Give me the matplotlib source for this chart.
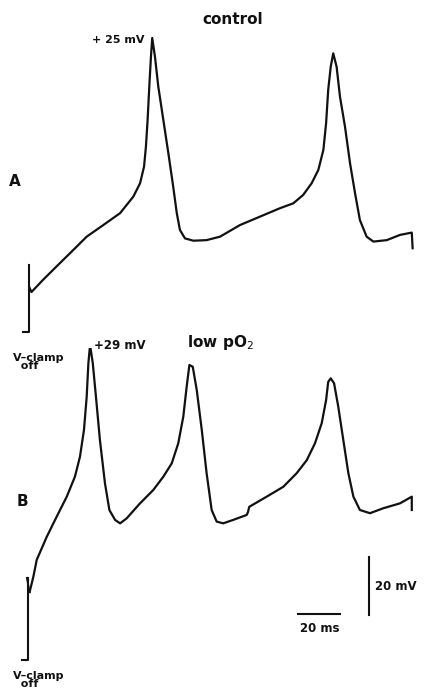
import matplotlib
matplotlib.use("Agg")
import matplotlib.pyplot as plt

# trace A (control): time in ms, membrane potential in mV
t_a = [-0.3, 0.7, 6.2, 13.3, 20.6, 27.0, 34.9, 42.9, 49.2, 52.4, 54.3, 55.2,
       56.0, 56.8, 57.6, 58.2, 59.5, 61.1, 63.5, 65.9, 68.2, 69.9, 71.4, 73.8,
       77.8, 84.1, 90.5, 100.0, 109.5, 119.0, 125.4, 130.1, 134.1, 137.3,
       139.7, 141.0, 142.0, 143.2, 144.4, 146.0, 147.6, 150.0, 152.4, 154.8,
       157.1, 160.3, 163.5, 169.9, 176.2, 181.8, 182.2]
v_a = [-61.0, -62.6, -58.4, -53.3, -48.1, -43.5, -39.5, -35.4, -29.7, -25.1,
       -19.4, -12.5, -3.3, 8.2, 18.6, 25.0, 18.6, 8.2, -3.3, -14.8, -26.3,
       -35.4, -41.2, -44.1, -44.9, -44.7, -43.5, -39.5, -36.6, -33.7, -32.0,
       -29.1, -25.1, -20.5, -13.6, -4.4, 7.1, 15.1, 19.7, 15.1, 4.8, -5.6,
       -18.2, -28.6, -37.8, -43.5, -45.2, -44.7, -42.9, -42.1, -47.5]

# trace B (low pO2)
t_b = [-0.2, 1.6, 3.2, 8.0, 12.7, 17.5, 21.4, 23.8, 25.7, 27.0, 27.8, 28.6,
       29.9, 31.4, 33.3, 35.7, 37.8, 40.5, 42.9, 46.0, 52.4, 58.7, 63.5, 67.5,
       70.6, 73.0, 74.6, 75.9, 77.5, 79.4, 81.8, 84.1, 86.5, 88.9, 92.0, 96.8,
       103.2, 103.8, 104.4, 112.7, 120.6, 127.0, 131.8, 135.7, 138.9, 141.0,
       142.0, 143.2, 144.8, 146.8, 149.2, 151.6, 154.0, 157.1, 161.9, 168.2,
       176.2, 181.8, 181.8]
v_b = [-56.2, -50.9, -45.1, -37.1, -30.2, -23.3, -16.4, -9.5, -0.3, 11.2,
       22.7, 29.0, 22.7, 11.2, -3.8, -18.7, -27.9, -31.3, -32.5, -30.8, -25.6,
       -21.0, -16.4, -11.8, -4.9, 4.3, 14.6, 22.1, 21.5, 13.5, -0.3, -15.2,
       -27.9, -31.9, -32.5, -31.3, -29.6, -28.6, -26.8, -23.3, -19.9, -15.2,
       -10.7, -4.9, 2.0, 10.0, 16.3, 17.5, 15.8, 7.7, -3.8, -15.2, -23.3,
       -27.9, -29.0, -27.3, -25.6, -23.3, -27.9]

# voltage-clamp release marks
clamp_a_t = [-0.5, -0.5, -3.3]
clamp_a_v = [-53.3, -76.4, -76.4]
clamp_b_t = [-1.0, -1.0, -3.8]
clamp_b_v = [-51.3, -79.6, -79.6]
notch_b_t = [-1.5, -0.2]
notch_b_v = [-51.3, -56.2]

# scale bars (in trace B units)
bar_v_t = [161.4, 161.4]
bar_v_v = [-44.1, -64.1]
bar_h_t = [127.6, 147.6]
bar_h_v = [-63.8, -63.8]

W, H = 425, 695
PX_MS = 2.1
PX_MV = 2.9
X0 = 30

fig = plt.figure(figsize=(W / 100, H / 100), dpi=100)
fig.patch.set_facecolor("white")

xlim = (-X0 / PX_MS, (W - X0) / PX_MS)

# axes A spans px rows 0..347.5, peak +25 mV at row 38
ax_a = fig.add_axes([0, 0.5, 1, 0.5])
ax_a.set_xlim(*xlim)
ax_a.set_ylim(25 - (347.5 - 38) / PX_MV, 25 + 38 / PX_MV)

# axes B spans px rows 347.5..695, peak +29 mV at row 345
ax_b = fig.add_axes([0, 0, 1, 0.5])
ax_b.set_xlim(*xlim)
ax_b.set_ylim(29 - (695 - 345) / PX_MV, 29 - (347.5 - 345) / PX_MV)

lc = "#111111"
ax_a.plot(t_a, v_a, color=lc, lw=1.6, solid_joinstyle="round")
ax_a.plot(clamp_a_t, clamp_a_v, color=lc, lw=1.5)
ax_b.plot(t_b, v_b, color=lc, lw=1.6, solid_joinstyle="round")
ax_b.plot(clamp_b_t, clamp_b_v, color=lc, lw=1.5)
ax_b.plot(notch_b_t, notch_b_v, color=lc, lw=1.3)
ax_b.plot(bar_v_t, bar_v_v, color=lc, lw=1.5)
ax_b.plot(bar_h_t, bar_h_v, color=lc, lw=1.5)

for ax in (ax_a, ax_b):
    ax.axis("off")


def ptext(x, y, s, **kw):
    kw.setdefault("color", lc)
    kw.setdefault("fontweight", "bold")
    kw.setdefault("va", "center")
    fig.text(x / W, 1 - y / H, s, **kw)


ptext(233, 20, "control", fontsize=11, ha="center")
ptext(145, 40, "+ 25 mV", fontsize=8, ha="right")
ptext(15, 181, "A", fontsize=11, ha="center")
ptext(94, 346, "+29 mV", fontsize=8.5, ha="left")
ptext(220, 342, "low pO$_2$", fontsize=11, ha="center")
ptext(13, 362, "V\u2013clamp\n  off", fontsize=8, ha="left", linespacing=0.8)
ptext(22, 502, "B", fontsize=11, ha="center")
ptext(375, 587, "20 mV", fontsize=8.5, ha="left")
ptext(320, 629, "20 ms", fontsize=8.5, ha="center")
ptext(13, 680, "V\u2013clamp\n  off", fontsize=8, ha="left", linespacing=0.8)

fig.savefig("out.png", dpi=100, facecolor="white")
